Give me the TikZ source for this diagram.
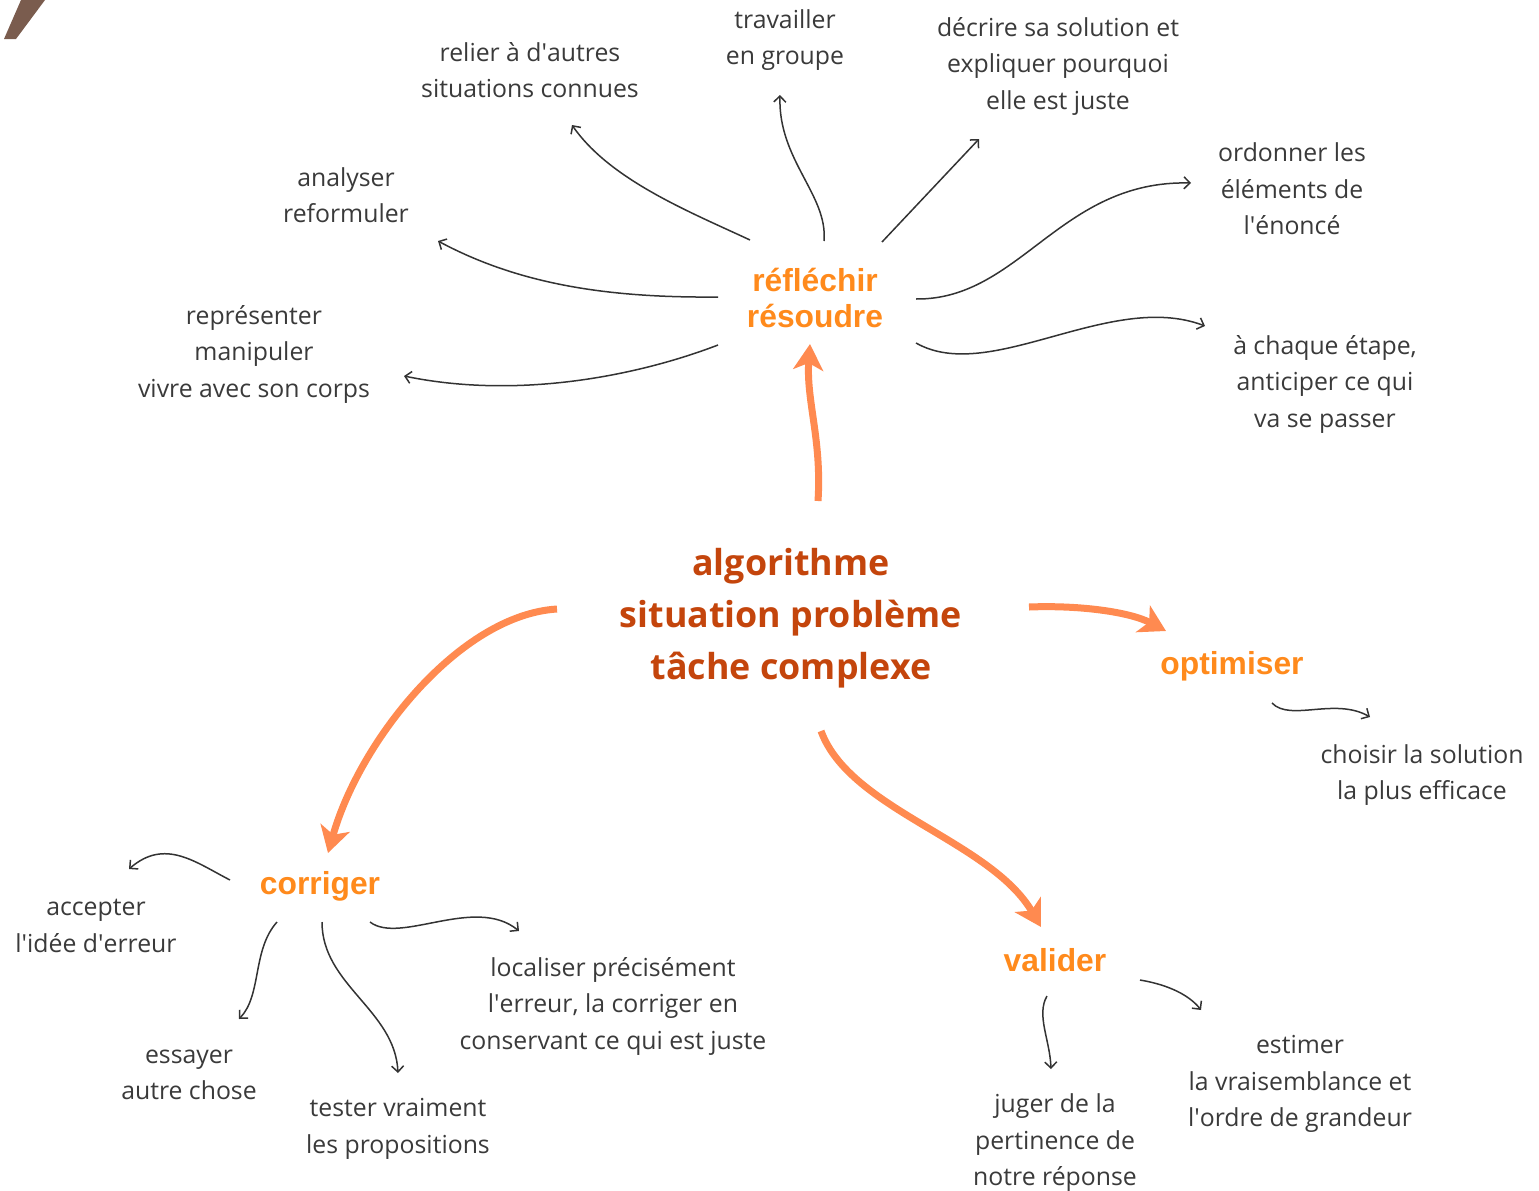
\documentclass[tikz,border=0pt]{standalone}
\usepackage{fontspec}
\setmainfont{Open Sans}
\newfontfamily\labfont{Liberation Sans}
\newfontfamily\cenfont{Open Sans}
\usetikzlibrary{arrows.meta}
\newcommand\ap{\textquotesingle}
\definecolor{txtgray}{HTML}{3A3A3A}
\definecolor{labor}{HTML}{FF8A1C}
\definecolor{cenor}{HTML}{C4450C}
\definecolor{arror}{HTML}{FF8A50}
\definecolor{markbrown}{HTML}{7A5C4E}
\tikzset{
  leaf/.style={align=center, inner sep=0pt, text=txtgray, font=\fontsize{24.8}{36.5}\selectfont},
  hub/.style={align=center, inner sep=0pt, text=labor, font=\labfont\bfseries\fontsize{31.8}{36}\selectfont},
  core/.style={align=center, inner sep=0pt, text=cenor, font=\cenfont\bfseries\fontsize{35.8}{52}\selectfont},
  thin/.style={draw=black!80, line width=1.5pt, -{Straight Barb[length=6pt,width=12pt,line width=1.5pt]}},
  fat/.style={draw=arror, line width=7pt, -{Stealth[length=26pt,width=30pt,inset=7pt]}}
}
\begin{document}
\begin{tikzpicture}[x=1pt,y=-1pt]
\useasboundingbox (0,0) rectangle (1539,1191);
\fill[markbrown] (21,0) -- (45,0) -- (16,39) -- (4,39) -- cycle;

% nodes
\node[core] (cen) at (791,618) {algorithme\\situation problème\\tâche complexe};
\node[hub] (refl) at (815,298) {réfléchir\\résoudre};
\node[hub] (opt) at (1232,666) {optimiser};
\node[hub] (cor) at (320,886) {corriger};
\node[hub] (val) at (1055,960) {valider};

\node[leaf] (relier) at (530,70) {relier à d\ap autres\\situations connues};
\node[leaf] (trav) at (785,40) {travailler\\en groupe};
\node[leaf] (decr) at (1058,66) {décrire sa solution et\\expliquer pourquoi\\elle est juste};
\node[leaf] (ordo) at (1292,189) {ordonner les\\éléments de\\l\ap énoncé};
\node[leaf] (analy) at (346,195) {analyser\\reformuler};
\node[leaf] (repr) at (254,354) {représenter\\manipuler\\vivre avec son corps};
\node[leaf] (chaq) at (1325,384) {à chaque étape,\\anticiper ce qui\\va se passer};
\node[leaf] (chois) at (1422,775) {choisir la solution\\la plus efficace};
\node[leaf] (accep) at (96,926) {accepter\\l\ap idée d\ap erreur};
\node[leaf] (local) at (613,1006) {localiser précisément\\l\ap erreur, la corriger en\\conservant ce qui est juste};
\node[leaf] (essay) at (189,1075) {essayer\\autre chose};
\node[leaf] (test) at (398,1129) {tester vraiment\\les propositions};
\node[leaf] (juger) at (1055,1143) {juger de la\\pertinence de\\notre réponse};
\node[leaf] (estim) at (1300,1084) {estimer\\la vraisemblance et\\l\ap ordre de grandeur};

% connector end points
\coordinate (r1s) at (750,240); \coordinate (r1e) at (572,125);
\coordinate (r2s) at (824,241); \coordinate (r2e) at (780,95);
\coordinate (r3s) at (718,297); \coordinate (r3e) at (438,241);
\coordinate (r4s) at (718,345); \coordinate (r4e) at (404,376);
\coordinate (r5s) at (882,242); \coordinate (r5e) at (979,139);
\coordinate (r6s) at (916,299); \coordinate (r6e) at (1191,183);
\coordinate (r7s) at (916,343); \coordinate (r7e) at (1205,326);
\coordinate (o1s) at (1272,703); \coordinate (o1e) at (1370,717);
\coordinate (c1s) at (230,880); \coordinate (c1e) at (129,869);
\coordinate (c2s) at (277,922); \coordinate (c2e) at (239,1019);
\coordinate (c3s) at (322,922); \coordinate (c3e) at (398,1073);
\coordinate (c4s) at (370,922); \coordinate (c4e) at (519,931);
\coordinate (v1s) at (1047,996); \coordinate (v1e) at (1051,1069);
\coordinate (v2s) at (1140,980); \coordinate (v2e) at (1201,1010);
\coordinate (fAs) at (818,501); \coordinate (fAe) at (810,344);
\coordinate (fBs) at (557,609); \coordinate (fBe) at (328,853);
\coordinate (fCs) at (821,731); \coordinate (fCe) at (1041,927);
\coordinate (fDs) at (1029,607); \coordinate (fDe) at (1166,631);

% thin connectors from réfléchir
\draw[thin] (r1s) .. controls (690,212) and (610,180) .. (r1e);
\draw[thin] (r2s) .. controls (828,195) and (778,160) .. (r2e);
\draw[thin] (r3s) .. controls (610,298) and (520,285) .. (r3e);
\draw[thin] (r4s) .. controls (640,375) and (520,400) .. (r4e);
\draw[thin] (r5s) -- (r5e);
\draw[thin] (r6s) .. controls (1020,300) and (1060,180) .. (r6e);
\draw[thin] (r7s) .. controls (990,385) and (1110,290) .. (r7e);
% optimiser
\draw[thin] (o1s) .. controls (1290,722) and (1335,697) .. (o1e);
% corriger
\draw[thin] (c1s) .. controls (195,862) and (165,838) .. (c1e);
\draw[thin] (c2s) .. controls (252,950) and (262,995) .. (c2e);
\draw[thin] (c3s) .. controls (322,985) and (395,1010) .. (c3e);
\draw[thin] (c4s) .. controls (400,945) and (475,895) .. (c4e);
% valider
\draw[thin] (v1s) .. controls (1036,1015) and (1050,1040) .. (v1e);
\draw[thin] (v2s) .. controls (1170,985) and (1190,996) .. (v2e);

% thick orange arrows from the centre
\draw[fat] (fAs) .. controls (822,440) and (806,400) .. (fAe);
\draw[fat] (fBs) .. controls (460,615) and (360,740) .. (fBe);
\draw[fat] (fCs) .. controls (850,810) and (990,840) .. (fCe);
\draw[fat] (fDs) .. controls (1080,605) and (1130,612) .. (fDe);
\end{tikzpicture}
\end{document}
